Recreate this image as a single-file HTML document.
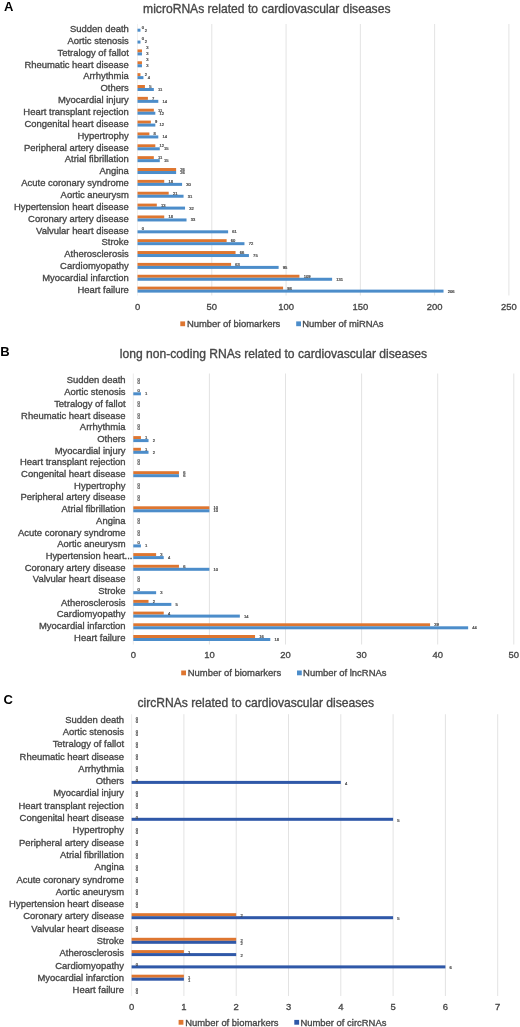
<!DOCTYPE html><html><head><meta charset="utf-8"><style>html,body{margin:0;padding:0;background:#fff;}svg{display:block;}text{font-family:"Liberation Sans",sans-serif;}.t{stroke:#464646;stroke-width:0.33px;}.d{stroke:#474747;stroke-width:0.22px;}</style></head><body>
<svg width="520" height="1027" viewBox="0 0 520 1027">
<defs><filter id="bl" filterUnits="userSpaceOnUse" x="0" y="0" width="520" height="1027" color-interpolation-filters="sRGB"><feGaussianBlur stdDeviation="0.3"/></filter></defs>
<rect width="520" height="1027" fill="#fff"/>
<g filter="url(#bl)">
<text x="3.9" y="10.8" font-size="13" font-weight="bold" fill="#000">A</text>
<text x="143.1" y="12.6" font-size="12.1" fill="#474747" class="t">microRNAs related to cardiovascular diseases</text>
<rect x="211.28" y="24" width="1" height="271.5" fill="#E3E3E3"/>
<rect x="285.56" y="24" width="1" height="271.5" fill="#E3E3E3"/>
<rect x="359.84" y="24" width="1" height="271.5" fill="#E3E3E3"/>
<rect x="434.12" y="24" width="1" height="271.5" fill="#E3E3E3"/>
<rect x="508.4" y="24" width="1" height="271.5" fill="#E3E3E3"/>
<rect x="137" y="24" width="1" height="271.5" fill="#F2F0EE"/>
<rect x="137.5" y="28.7" width="2.97" height="3" fill="#4C8DCA"/>
<text x="141.7" y="28.6" font-size="4.1" fill="#474747" class="d">0</text>
<text x="144.67" y="31.6" font-size="4.1" fill="#474747" class="d">2</text>
<text x="128.8" y="31.95" font-size="9.45" text-anchor="end" fill="#474747" class="t">Sudden death</text>
<rect x="137.5" y="40.56" width="2.97" height="3" fill="#4C8DCA"/>
<text x="141.7" y="40.46" font-size="4.1" fill="#474747" class="d">0</text>
<text x="144.67" y="43.46" font-size="4.1" fill="#474747" class="d">2</text>
<text x="128.8" y="43.81" font-size="9.45" text-anchor="end" fill="#474747" class="t">Aortic stenosis</text>
<rect x="137.5" y="49.42" width="4.46" height="3" fill="#DE7630"/>
<rect x="137.5" y="52.42" width="4.46" height="3" fill="#4C8DCA"/>
<text x="146.16" y="49.32" font-size="4.1" fill="#474747" class="d">3</text>
<text x="146.16" y="55.32" font-size="4.1" fill="#474747" class="d">3</text>
<text x="128.8" y="55.67" font-size="9.45" text-anchor="end" fill="#474747" class="t">Tetralogy of fallot</text>
<rect x="137.5" y="61.28" width="4.46" height="3" fill="#DE7630"/>
<rect x="137.5" y="64.28" width="4.46" height="3" fill="#4C8DCA"/>
<text x="146.16" y="61.18" font-size="4.1" fill="#474747" class="d">3</text>
<text x="146.16" y="67.18" font-size="4.1" fill="#474747" class="d">3</text>
<text x="128.8" y="67.53" font-size="9.45" text-anchor="end" fill="#474747" class="t">Rheumatic heart disease</text>
<rect x="137.5" y="73.14" width="2.97" height="3" fill="#DE7630"/>
<rect x="137.5" y="76.14" width="5.94" height="3" fill="#4C8DCA"/>
<text x="144.67" y="76.04" font-size="4.1" fill="#474747" class="d">2</text>
<text x="147.64" y="79.04" font-size="4.1" fill="#474747" class="d">4</text>
<text x="128.8" y="79.39" font-size="9.45" text-anchor="end" fill="#474747" class="t">Arrhythmia</text>
<rect x="137.5" y="85" width="7.43" height="3" fill="#DE7630"/>
<rect x="137.5" y="88" width="16.34" height="3" fill="#4C8DCA"/>
<text x="149.13" y="87.9" font-size="4.1" fill="#474747" class="d">5</text>
<text x="158.04" y="90.9" font-size="4.1" fill="#474747" class="d">11</text>
<text x="128.8" y="91.25" font-size="9.45" text-anchor="end" fill="#474747" class="t">Others</text>
<rect x="137.5" y="96.86" width="10.4" height="3" fill="#DE7630"/>
<rect x="137.5" y="99.86" width="20.8" height="3" fill="#4C8DCA"/>
<text x="152.1" y="99.76" font-size="4.1" fill="#474747" class="d">7</text>
<text x="162.5" y="102.76" font-size="4.1" fill="#474747" class="d">14</text>
<text x="128.8" y="103.11" font-size="9.45" text-anchor="end" fill="#474747" class="t">Myocardial injury</text>
<rect x="137.5" y="108.72" width="16.34" height="3" fill="#DE7630"/>
<rect x="137.5" y="111.72" width="17.83" height="3" fill="#4C8DCA"/>
<text x="158.04" y="111.62" font-size="4.1" fill="#474747" class="d">11</text>
<text x="159.53" y="114.62" font-size="4.1" fill="#474747" class="d">12</text>
<text x="128.8" y="114.97" font-size="9.45" text-anchor="end" fill="#474747" class="t">Heart transplant rejection</text>
<rect x="137.5" y="120.58" width="13.37" height="3" fill="#DE7630"/>
<rect x="137.5" y="123.58" width="17.83" height="3" fill="#4C8DCA"/>
<text x="155.07" y="123.48" font-size="4.1" fill="#474747" class="d">9</text>
<text x="159.53" y="126.48" font-size="4.1" fill="#474747" class="d">12</text>
<text x="128.8" y="126.83" font-size="9.45" text-anchor="end" fill="#474747" class="t">Congenital heart disease</text>
<rect x="137.5" y="132.44" width="11.88" height="3" fill="#DE7630"/>
<rect x="137.5" y="135.44" width="20.8" height="3" fill="#4C8DCA"/>
<text x="153.58" y="135.34" font-size="4.1" fill="#474747" class="d">8</text>
<text x="162.5" y="138.34" font-size="4.1" fill="#474747" class="d">14</text>
<text x="128.8" y="138.69" font-size="9.45" text-anchor="end" fill="#474747" class="t">Hypertrophy</text>
<rect x="137.5" y="144.3" width="17.83" height="3" fill="#DE7630"/>
<rect x="137.5" y="147.3" width="22.28" height="3" fill="#4C8DCA"/>
<text x="159.53" y="147.2" font-size="4.1" fill="#474747" class="d">12</text>
<text x="163.98" y="150.2" font-size="4.1" fill="#474747" class="d">15</text>
<text x="128.8" y="150.55" font-size="9.45" text-anchor="end" fill="#474747" class="t">Peripheral artery disease</text>
<rect x="137.5" y="156.16" width="16.34" height="3" fill="#DE7630"/>
<rect x="137.5" y="159.16" width="22.28" height="3" fill="#4C8DCA"/>
<text x="158.04" y="159.06" font-size="4.1" fill="#474747" class="d">11</text>
<text x="163.98" y="162.06" font-size="4.1" fill="#474747" class="d">15</text>
<text x="128.8" y="162.41" font-size="9.45" text-anchor="end" fill="#474747" class="t">Atrial fibrillation</text>
<rect x="137.5" y="168.02" width="38.63" height="3" fill="#DE7630"/>
<rect x="137.5" y="171.02" width="38.63" height="3" fill="#4C8DCA"/>
<text x="180.33" y="170.92" font-size="4.1" fill="#474747" class="d">26</text>
<text x="180.33" y="173.92" font-size="4.1" fill="#474747" class="d">26</text>
<text x="128.8" y="174.27" font-size="9.45" text-anchor="end" fill="#474747" class="t">Angina</text>
<rect x="137.5" y="179.88" width="26.74" height="3" fill="#DE7630"/>
<rect x="137.5" y="182.88" width="44.57" height="3" fill="#4C8DCA"/>
<text x="168.44" y="182.78" font-size="4.1" fill="#474747" class="d">18</text>
<text x="186.27" y="185.78" font-size="4.1" fill="#474747" class="d">30</text>
<text x="128.8" y="186.13" font-size="9.45" text-anchor="end" fill="#474747" class="t">Acute coronary syndrome</text>
<rect x="137.5" y="191.74" width="31.2" height="3" fill="#DE7630"/>
<rect x="137.5" y="194.74" width="46.05" height="3" fill="#4C8DCA"/>
<text x="172.9" y="194.64" font-size="4.1" fill="#474747" class="d">21</text>
<text x="187.75" y="197.64" font-size="4.1" fill="#474747" class="d">31</text>
<text x="128.8" y="197.99" font-size="9.45" text-anchor="end" fill="#474747" class="t">Aortic aneurysm</text>
<rect x="137.5" y="203.6" width="19.31" height="3" fill="#DE7630"/>
<rect x="137.5" y="206.6" width="47.54" height="3" fill="#4C8DCA"/>
<text x="161.01" y="206.5" font-size="4.1" fill="#474747" class="d">13</text>
<text x="189.24" y="209.5" font-size="4.1" fill="#474747" class="d">32</text>
<text x="128.8" y="209.85" font-size="9.45" text-anchor="end" fill="#474747" class="t">Hypertension heart disease</text>
<rect x="137.5" y="215.46" width="26.74" height="3" fill="#DE7630"/>
<rect x="137.5" y="218.46" width="49.02" height="3" fill="#4C8DCA"/>
<text x="168.44" y="218.36" font-size="4.1" fill="#474747" class="d">18</text>
<text x="190.72" y="221.36" font-size="4.1" fill="#474747" class="d">33</text>
<text x="128.8" y="221.71" font-size="9.45" text-anchor="end" fill="#474747" class="t">Coronary artery disease</text>
<rect x="137.5" y="230.32" width="90.62" height="3" fill="#4C8DCA"/>
<text x="141.7" y="230.22" font-size="4.1" fill="#474747" class="d">0</text>
<text x="232.32" y="233.22" font-size="4.1" fill="#474747" class="d">61</text>
<text x="128.8" y="233.57" font-size="9.45" text-anchor="end" fill="#474747" class="t">Valvular heart disease</text>
<rect x="137.5" y="239.18" width="89.14" height="3" fill="#DE7630"/>
<rect x="137.5" y="242.18" width="106.96" height="3" fill="#4C8DCA"/>
<text x="230.84" y="242.08" font-size="4.1" fill="#474747" class="d">60</text>
<text x="248.66" y="245.08" font-size="4.1" fill="#474747" class="d">72</text>
<text x="128.8" y="245.43" font-size="9.45" text-anchor="end" fill="#474747" class="t">Stroke</text>
<rect x="137.5" y="251.04" width="98.05" height="3" fill="#DE7630"/>
<rect x="137.5" y="254.04" width="111.42" height="3" fill="#4C8DCA"/>
<text x="239.75" y="253.94" font-size="4.1" fill="#474747" class="d">66</text>
<text x="253.12" y="256.94" font-size="4.1" fill="#474747" class="d">75</text>
<text x="128.8" y="257.29" font-size="9.45" text-anchor="end" fill="#474747" class="t">Atherosclerosis</text>
<rect x="137.5" y="262.9" width="93.59" height="3" fill="#DE7630"/>
<rect x="137.5" y="265.9" width="141.13" height="3" fill="#4C8DCA"/>
<text x="235.29" y="265.8" font-size="4.1" fill="#474747" class="d">63</text>
<text x="282.83" y="268.8" font-size="4.1" fill="#474747" class="d">95</text>
<text x="128.8" y="269.15" font-size="9.45" text-anchor="end" fill="#474747" class="t">Cardiomyopathy</text>
<rect x="137.5" y="274.76" width="161.93" height="3" fill="#DE7630"/>
<rect x="137.5" y="277.76" width="194.61" height="3" fill="#4C8DCA"/>
<text x="303.63" y="277.66" font-size="4.1" fill="#474747" class="d">109</text>
<text x="336.31" y="280.66" font-size="4.1" fill="#474747" class="d">131</text>
<text x="128.8" y="281.01" font-size="9.45" text-anchor="end" fill="#474747" class="t">Myocardial infarction</text>
<rect x="137.5" y="286.62" width="145.59" height="3" fill="#DE7630"/>
<rect x="137.5" y="289.62" width="306.03" height="3" fill="#4C8DCA"/>
<text x="287.29" y="289.52" font-size="4.1" fill="#474747" class="d">98</text>
<text x="447.73" y="292.52" font-size="4.1" fill="#474747" class="d">206</text>
<text x="128.8" y="292.87" font-size="9.45" text-anchor="end" fill="#474747" class="t">Heart failure</text>
<text x="137.5" y="309.95" font-size="9.45" text-anchor="middle" fill="#474747" class="t">0</text>
<text x="211.78" y="309.95" font-size="9.45" text-anchor="middle" fill="#474747" class="t">50</text>
<text x="286.06" y="309.95" font-size="9.45" text-anchor="middle" fill="#474747" class="t">100</text>
<text x="360.34" y="309.95" font-size="9.45" text-anchor="middle" fill="#474747" class="t">150</text>
<text x="434.62" y="309.95" font-size="9.45" text-anchor="middle" fill="#474747" class="t">200</text>
<text x="508.9" y="309.95" font-size="9.45" text-anchor="middle" fill="#474747" class="t">250</text>
<rect x="180.3" y="321.4" width="4.8" height="4.8" fill="#DE7630"/>
<text x="186.9" y="327.05" font-size="9.45" fill="#474747" class="t">Number of biomarkers</text>
<rect x="296.2" y="321.4" width="4.8" height="4.8" fill="#4C8DCA"/>
<text x="302.3" y="327.05" font-size="9.45" fill="#474747" class="t">Number of miRNAs</text>
<text x="0.3" y="355.6" font-size="13" font-weight="bold" fill="#000">B</text>
<text x="119.8" y="357.8" font-size="12.1" fill="#474747" class="t">long non-coding RNAs related to cardiovascular diseases</text>
<rect x="208.9" y="373.5" width="1" height="271" fill="#E3E3E3"/>
<rect x="285" y="373.5" width="1" height="271" fill="#E3E3E3"/>
<rect x="361.1" y="373.5" width="1" height="271" fill="#E3E3E3"/>
<rect x="437.2" y="373.5" width="1" height="271" fill="#E3E3E3"/>
<rect x="513.3" y="373.5" width="1" height="271" fill="#E3E3E3"/>
<rect x="132.8" y="373.5" width="1" height="271" fill="#ECECEC"/>
<text x="137.5" y="380.5" font-size="4.1" fill="#474747" class="d">0</text>
<text x="137.5" y="383.5" font-size="4.1" fill="#474747" class="d">0</text>
<text x="125.5" y="383.45" font-size="9.45" text-anchor="end" fill="#474747" class="t">Sudden death</text>
<rect x="133.3" y="392.3" width="7.61" height="3" fill="#4C8DCA"/>
<text x="137.5" y="392.2" font-size="4.1" fill="#474747" class="d">0</text>
<text x="145.11" y="395.2" font-size="4.1" fill="#474747" class="d">1</text>
<text x="125.5" y="395.15" font-size="9.45" text-anchor="end" fill="#474747" class="t">Aortic stenosis</text>
<text x="137.5" y="403.9" font-size="4.1" fill="#474747" class="d">0</text>
<text x="137.5" y="406.9" font-size="4.1" fill="#474747" class="d">0</text>
<text x="125.5" y="406.85" font-size="9.45" text-anchor="end" fill="#474747" class="t">Tetralogy of fallot</text>
<text x="137.5" y="415.6" font-size="4.1" fill="#474747" class="d">0</text>
<text x="137.5" y="418.6" font-size="4.1" fill="#474747" class="d">0</text>
<text x="125.5" y="418.55" font-size="9.45" text-anchor="end" fill="#474747" class="t">Rheumatic heart disease</text>
<text x="137.5" y="427.3" font-size="4.1" fill="#474747" class="d">0</text>
<text x="137.5" y="430.3" font-size="4.1" fill="#474747" class="d">0</text>
<text x="125.5" y="430.25" font-size="9.45" text-anchor="end" fill="#474747" class="t">Arrhythmia</text>
<rect x="133.3" y="436.1" width="7.61" height="3" fill="#DE7630"/>
<rect x="133.3" y="439.1" width="15.22" height="3" fill="#4C8DCA"/>
<text x="145.11" y="439" font-size="4.1" fill="#474747" class="d">1</text>
<text x="152.72" y="442" font-size="4.1" fill="#474747" class="d">2</text>
<text x="125.5" y="441.95" font-size="9.45" text-anchor="end" fill="#474747" class="t">Others</text>
<rect x="133.3" y="447.8" width="7.61" height="3" fill="#DE7630"/>
<rect x="133.3" y="450.8" width="15.22" height="3" fill="#4C8DCA"/>
<text x="145.11" y="450.7" font-size="4.1" fill="#474747" class="d">1</text>
<text x="152.72" y="453.7" font-size="4.1" fill="#474747" class="d">2</text>
<text x="125.5" y="453.65" font-size="9.45" text-anchor="end" fill="#474747" class="t">Myocardial injury</text>
<text x="137.5" y="462.4" font-size="4.1" fill="#474747" class="d">0</text>
<text x="137.5" y="465.4" font-size="4.1" fill="#474747" class="d">0</text>
<text x="125.5" y="465.35" font-size="9.45" text-anchor="end" fill="#474747" class="t">Heart transplant rejection</text>
<rect x="133.3" y="471.2" width="45.66" height="3" fill="#DE7630"/>
<rect x="133.3" y="474.2" width="45.66" height="3" fill="#4C8DCA"/>
<text x="183.16" y="474.1" font-size="4.1" fill="#474747" class="d">6</text>
<text x="183.16" y="477.1" font-size="4.1" fill="#474747" class="d">6</text>
<text x="125.5" y="477.05" font-size="9.45" text-anchor="end" fill="#474747" class="t">Congenital heart disease</text>
<text x="137.5" y="485.8" font-size="4.1" fill="#474747" class="d">0</text>
<text x="137.5" y="488.8" font-size="4.1" fill="#474747" class="d">0</text>
<text x="125.5" y="488.75" font-size="9.45" text-anchor="end" fill="#474747" class="t">Hypertrophy</text>
<text x="137.5" y="497.5" font-size="4.1" fill="#474747" class="d">0</text>
<text x="137.5" y="500.5" font-size="4.1" fill="#474747" class="d">0</text>
<text x="125.5" y="500.45" font-size="9.45" text-anchor="end" fill="#474747" class="t">Peripheral artery disease</text>
<rect x="133.3" y="506.3" width="76.1" height="3" fill="#DE7630"/>
<rect x="133.3" y="509.3" width="76.1" height="3" fill="#4C8DCA"/>
<text x="213.6" y="509.2" font-size="4.1" fill="#474747" class="d">10</text>
<text x="213.6" y="512.2" font-size="4.1" fill="#474747" class="d">10</text>
<text x="125.5" y="512.15" font-size="9.45" text-anchor="end" fill="#474747" class="t">Atrial fibrillation</text>
<text x="137.5" y="520.9" font-size="4.1" fill="#474747" class="d">0</text>
<text x="137.5" y="523.9" font-size="4.1" fill="#474747" class="d">0</text>
<text x="125.5" y="523.85" font-size="9.45" text-anchor="end" fill="#474747" class="t">Angina</text>
<text x="137.5" y="532.6" font-size="4.1" fill="#474747" class="d">0</text>
<text x="137.5" y="535.6" font-size="4.1" fill="#474747" class="d">0</text>
<text x="125.5" y="535.55" font-size="9.45" text-anchor="end" fill="#474747" class="t">Acute coronary syndrome</text>
<rect x="133.3" y="544.4" width="7.61" height="3" fill="#4C8DCA"/>
<text x="137.5" y="544.3" font-size="4.1" fill="#474747" class="d">0</text>
<text x="145.11" y="547.3" font-size="4.1" fill="#474747" class="d">1</text>
<text x="125.5" y="547.25" font-size="9.45" text-anchor="end" fill="#474747" class="t">Aortic aneurysm</text>
<rect x="133.3" y="553.1" width="22.83" height="3" fill="#DE7630"/>
<rect x="133.3" y="556.1" width="30.44" height="3" fill="#4C8DCA"/>
<text x="160.33" y="556" font-size="4.1" fill="#474747" class="d">3</text>
<text x="167.94" y="559" font-size="4.1" fill="#474747" class="d">4</text>
<text x="132.4" y="558.95" font-size="9.35" text-anchor="end" fill="#474747" class="t">Hypertension heart...</text>
<rect x="133.3" y="564.8" width="45.66" height="3" fill="#DE7630"/>
<rect x="133.3" y="567.8" width="76.1" height="3" fill="#4C8DCA"/>
<text x="183.16" y="567.7" font-size="4.1" fill="#474747" class="d">6</text>
<text x="213.6" y="570.7" font-size="4.1" fill="#474747" class="d">10</text>
<text x="125.5" y="570.65" font-size="9.45" text-anchor="end" fill="#474747" class="t">Coronary artery disease</text>
<text x="137.5" y="579.4" font-size="4.1" fill="#474747" class="d">0</text>
<text x="137.5" y="582.4" font-size="4.1" fill="#474747" class="d">0</text>
<text x="125.5" y="582.35" font-size="9.45" text-anchor="end" fill="#474747" class="t">Valvular heart disease</text>
<rect x="133.3" y="591.2" width="22.83" height="3" fill="#4C8DCA"/>
<text x="137.5" y="591.1" font-size="4.1" fill="#474747" class="d">0</text>
<text x="160.33" y="594.1" font-size="4.1" fill="#474747" class="d">3</text>
<text x="125.5" y="594.05" font-size="9.45" text-anchor="end" fill="#474747" class="t">Stroke</text>
<rect x="133.3" y="599.9" width="15.22" height="3" fill="#DE7630"/>
<rect x="133.3" y="602.9" width="38.05" height="3" fill="#4C8DCA"/>
<text x="152.72" y="602.8" font-size="4.1" fill="#474747" class="d">2</text>
<text x="175.55" y="605.8" font-size="4.1" fill="#474747" class="d">5</text>
<text x="125.5" y="605.75" font-size="9.45" text-anchor="end" fill="#474747" class="t">Atherosclerosis</text>
<rect x="133.3" y="611.6" width="30.44" height="3" fill="#DE7630"/>
<rect x="133.3" y="614.6" width="106.54" height="3" fill="#4C8DCA"/>
<text x="167.94" y="614.5" font-size="4.1" fill="#474747" class="d">4</text>
<text x="244.04" y="617.5" font-size="4.1" fill="#474747" class="d">14</text>
<text x="125.5" y="617.45" font-size="9.45" text-anchor="end" fill="#474747" class="t">Cardiomyopathy</text>
<rect x="133.3" y="623.3" width="296.79" height="3" fill="#DE7630"/>
<rect x="133.3" y="626.3" width="334.84" height="3" fill="#4C8DCA"/>
<text x="434.29" y="626.2" font-size="4.1" fill="#474747" class="d">39</text>
<text x="472.34" y="629.2" font-size="4.1" fill="#474747" class="d">44</text>
<text x="125.5" y="629.15" font-size="9.45" text-anchor="end" fill="#474747" class="t">Myocardial infarction</text>
<rect x="133.3" y="635" width="121.76" height="3" fill="#DE7630"/>
<rect x="133.3" y="638" width="136.98" height="3" fill="#4C8DCA"/>
<text x="259.26" y="637.9" font-size="4.1" fill="#474747" class="d">16</text>
<text x="274.48" y="640.9" font-size="4.1" fill="#474747" class="d">18</text>
<text x="125.5" y="640.85" font-size="9.45" text-anchor="end" fill="#474747" class="t">Heart failure</text>
<text x="133.3" y="657.85" font-size="9.45" text-anchor="middle" fill="#474747" class="t">0</text>
<text x="209.4" y="657.85" font-size="9.45" text-anchor="middle" fill="#474747" class="t">10</text>
<text x="285.5" y="657.85" font-size="9.45" text-anchor="middle" fill="#474747" class="t">20</text>
<text x="361.6" y="657.85" font-size="9.45" text-anchor="middle" fill="#474747" class="t">30</text>
<text x="437.7" y="657.85" font-size="9.45" text-anchor="middle" fill="#474747" class="t">40</text>
<text x="513.8" y="657.85" font-size="9.45" text-anchor="middle" fill="#474747" class="t">50</text>
<rect x="181.2" y="670.5" width="4.8" height="4.8" fill="#DE7630"/>
<text x="187.8" y="676.15" font-size="9.45" fill="#474747" class="t">Number of biomarkers</text>
<rect x="297" y="670.5" width="4.8" height="4.8" fill="#4C8DCA"/>
<text x="303.1" y="676.15" font-size="9.45" fill="#474747" class="t">Number of lncRNAs</text>
<text x="3.4" y="703.9" font-size="13" font-weight="bold" fill="#000">C</text>
<text x="137.5" y="706.7" font-size="12.1" fill="#474747" class="t">circRNAs related to cardiovascular diseases</text>
<rect x="183.4" y="714.2" width="1" height="281.8" fill="#E3E3E3"/>
<rect x="235.7" y="714.2" width="1" height="281.8" fill="#E3E3E3"/>
<rect x="288" y="714.2" width="1" height="281.8" fill="#E3E3E3"/>
<rect x="340.3" y="714.2" width="1" height="281.8" fill="#E3E3E3"/>
<rect x="392.6" y="714.2" width="1" height="281.8" fill="#E3E3E3"/>
<rect x="444.9" y="714.2" width="1" height="281.8" fill="#E3E3E3"/>
<rect x="497.2" y="714.2" width="1" height="281.8" fill="#E3E3E3"/>
<rect x="131.1" y="714.2" width="1" height="281.8" fill="#ECECEC"/>
<text x="135.8" y="720.2" font-size="4.1" fill="#474747" class="d">0</text>
<text x="135.8" y="723.2" font-size="4.1" fill="#474747" class="d">0</text>
<text x="124" y="722.65" font-size="9.45" text-anchor="end" fill="#474747" class="t">Sudden death</text>
<text x="135.8" y="732.5" font-size="4.1" fill="#474747" class="d">0</text>
<text x="135.8" y="735.5" font-size="4.1" fill="#474747" class="d">0</text>
<text x="124" y="734.95" font-size="9.45" text-anchor="end" fill="#474747" class="t">Aortic stenosis</text>
<text x="135.8" y="744.8" font-size="4.1" fill="#474747" class="d">0</text>
<text x="135.8" y="747.8" font-size="4.1" fill="#474747" class="d">0</text>
<text x="124" y="747.25" font-size="9.45" text-anchor="end" fill="#474747" class="t">Tetralogy of fallot</text>
<text x="135.8" y="757.1" font-size="4.1" fill="#474747" class="d">0</text>
<text x="135.8" y="760.1" font-size="4.1" fill="#474747" class="d">0</text>
<text x="124" y="759.55" font-size="9.45" text-anchor="end" fill="#474747" class="t">Rheumatic heart disease</text>
<text x="135.8" y="769.4" font-size="4.1" fill="#474747" class="d">0</text>
<text x="135.8" y="772.4" font-size="4.1" fill="#474747" class="d">0</text>
<text x="124" y="771.85" font-size="9.45" text-anchor="end" fill="#474747" class="t">Arrhythmia</text>
<rect x="131.6" y="780.9" width="209.2" height="3" fill="#2F58A8"/>
<text x="135.8" y="781.7" font-size="4.1" fill="#474747" class="d">0</text>
<text x="345" y="784.7" font-size="4.1" fill="#474747" class="d">4</text>
<text x="124" y="784.15" font-size="9.45" text-anchor="end" fill="#474747" class="t">Others</text>
<text x="135.8" y="794" font-size="4.1" fill="#474747" class="d">0</text>
<text x="135.8" y="797" font-size="4.1" fill="#474747" class="d">0</text>
<text x="124" y="796.45" font-size="9.45" text-anchor="end" fill="#474747" class="t">Myocardial injury</text>
<text x="135.8" y="806.3" font-size="4.1" fill="#474747" class="d">0</text>
<text x="135.8" y="809.3" font-size="4.1" fill="#474747" class="d">0</text>
<text x="124" y="808.75" font-size="9.45" text-anchor="end" fill="#474747" class="t">Heart transplant rejection</text>
<rect x="131.6" y="817.8" width="261.5" height="3" fill="#2F58A8"/>
<text x="135.8" y="818.6" font-size="4.1" fill="#474747" class="d">0</text>
<text x="397.3" y="821.6" font-size="4.1" fill="#474747" class="d">5</text>
<text x="124" y="821.05" font-size="9.45" text-anchor="end" fill="#474747" class="t">Congenital heart disease</text>
<text x="135.8" y="830.9" font-size="4.1" fill="#474747" class="d">0</text>
<text x="135.8" y="833.9" font-size="4.1" fill="#474747" class="d">0</text>
<text x="124" y="833.35" font-size="9.45" text-anchor="end" fill="#474747" class="t">Hypertrophy</text>
<text x="135.8" y="843.2" font-size="4.1" fill="#474747" class="d">0</text>
<text x="135.8" y="846.2" font-size="4.1" fill="#474747" class="d">0</text>
<text x="124" y="845.65" font-size="9.45" text-anchor="end" fill="#474747" class="t">Peripheral artery disease</text>
<text x="135.8" y="855.5" font-size="4.1" fill="#474747" class="d">0</text>
<text x="135.8" y="858.5" font-size="4.1" fill="#474747" class="d">0</text>
<text x="124" y="857.95" font-size="9.45" text-anchor="end" fill="#474747" class="t">Atrial fibrillation</text>
<text x="135.8" y="867.8" font-size="4.1" fill="#474747" class="d">0</text>
<text x="135.8" y="870.8" font-size="4.1" fill="#474747" class="d">0</text>
<text x="124" y="870.25" font-size="9.45" text-anchor="end" fill="#474747" class="t">Angina</text>
<text x="135.8" y="880.1" font-size="4.1" fill="#474747" class="d">0</text>
<text x="135.8" y="883.1" font-size="4.1" fill="#474747" class="d">0</text>
<text x="124" y="882.55" font-size="9.45" text-anchor="end" fill="#474747" class="t">Acute coronary syndrome</text>
<text x="135.8" y="892.4" font-size="4.1" fill="#474747" class="d">0</text>
<text x="135.8" y="895.4" font-size="4.1" fill="#474747" class="d">0</text>
<text x="124" y="894.85" font-size="9.45" text-anchor="end" fill="#474747" class="t">Aortic aneurysm</text>
<text x="135.8" y="904.7" font-size="4.1" fill="#474747" class="d">0</text>
<text x="135.8" y="907.7" font-size="4.1" fill="#474747" class="d">0</text>
<text x="124" y="907.15" font-size="9.45" text-anchor="end" fill="#474747" class="t">Hypertension heart disease</text>
<rect x="131.6" y="913.2" width="104.6" height="3" fill="#DE7630"/>
<rect x="131.6" y="916.2" width="261.5" height="3" fill="#2F58A8"/>
<text x="240.4" y="917" font-size="4.1" fill="#474747" class="d">2</text>
<text x="397.3" y="920" font-size="4.1" fill="#474747" class="d">5</text>
<text x="124" y="919.45" font-size="9.45" text-anchor="end" fill="#474747" class="t">Coronary artery disease</text>
<text x="135.8" y="929.3" font-size="4.1" fill="#474747" class="d">0</text>
<text x="135.8" y="932.3" font-size="4.1" fill="#474747" class="d">0</text>
<text x="124" y="931.75" font-size="9.45" text-anchor="end" fill="#474747" class="t">Valvular heart disease</text>
<rect x="131.6" y="937.8" width="104.6" height="3" fill="#DE7630"/>
<rect x="131.6" y="940.8" width="104.6" height="3" fill="#2F58A8"/>
<text x="240.4" y="941.6" font-size="4.1" fill="#474747" class="d">2</text>
<text x="240.4" y="944.6" font-size="4.1" fill="#474747" class="d">2</text>
<text x="124" y="944.05" font-size="9.45" text-anchor="end" fill="#474747" class="t">Stroke</text>
<rect x="131.6" y="950.1" width="52.3" height="3" fill="#DE7630"/>
<rect x="131.6" y="953.1" width="104.6" height="3" fill="#2F58A8"/>
<text x="188.1" y="953.9" font-size="4.1" fill="#474747" class="d">1</text>
<text x="240.4" y="956.9" font-size="4.1" fill="#474747" class="d">2</text>
<text x="124" y="956.35" font-size="9.45" text-anchor="end" fill="#474747" class="t">Atherosclerosis</text>
<rect x="131.6" y="965.4" width="313.8" height="3" fill="#2F58A8"/>
<text x="135.8" y="966.2" font-size="4.1" fill="#474747" class="d">0</text>
<text x="449.6" y="969.2" font-size="4.1" fill="#474747" class="d">6</text>
<text x="124" y="968.65" font-size="9.45" text-anchor="end" fill="#474747" class="t">Cardiomyopathy</text>
<rect x="131.6" y="974.7" width="52.3" height="3" fill="#DE7630"/>
<rect x="131.6" y="977.7" width="52.3" height="3" fill="#2F58A8"/>
<text x="188.1" y="978.5" font-size="4.1" fill="#474747" class="d">1</text>
<text x="188.1" y="981.5" font-size="4.1" fill="#474747" class="d">1</text>
<text x="124" y="980.95" font-size="9.45" text-anchor="end" fill="#474747" class="t">Myocardial infarction</text>
<text x="135.8" y="990.8" font-size="4.1" fill="#474747" class="d">0</text>
<text x="135.8" y="993.8" font-size="4.1" fill="#474747" class="d">0</text>
<text x="124" y="993.25" font-size="9.45" text-anchor="end" fill="#474747" class="t">Heart failure</text>
<text x="131.6" y="1010.25" font-size="9.45" text-anchor="middle" fill="#474747" class="t">0</text>
<text x="183.9" y="1010.25" font-size="9.45" text-anchor="middle" fill="#474747" class="t">1</text>
<text x="236.2" y="1010.25" font-size="9.45" text-anchor="middle" fill="#474747" class="t">2</text>
<text x="288.5" y="1010.25" font-size="9.45" text-anchor="middle" fill="#474747" class="t">3</text>
<text x="340.8" y="1010.25" font-size="9.45" text-anchor="middle" fill="#474747" class="t">4</text>
<text x="393.1" y="1010.25" font-size="9.45" text-anchor="middle" fill="#474747" class="t">5</text>
<text x="445.4" y="1010.25" font-size="9.45" text-anchor="middle" fill="#474747" class="t">6</text>
<text x="497.7" y="1010.25" font-size="9.45" text-anchor="middle" fill="#474747" class="t">7</text>
<rect x="178.6" y="1019.9" width="4.8" height="4.8" fill="#DE7630"/>
<text x="185.2" y="1025.55" font-size="9.45" fill="#474747" class="t">Number of biomarkers</text>
<rect x="294.3" y="1019.9" width="4.8" height="4.8" fill="#2F58A8"/>
<text x="300.4" y="1025.55" font-size="9.45" fill="#474747" class="t">Number of circRNAs</text>
</g></svg></body></html>
